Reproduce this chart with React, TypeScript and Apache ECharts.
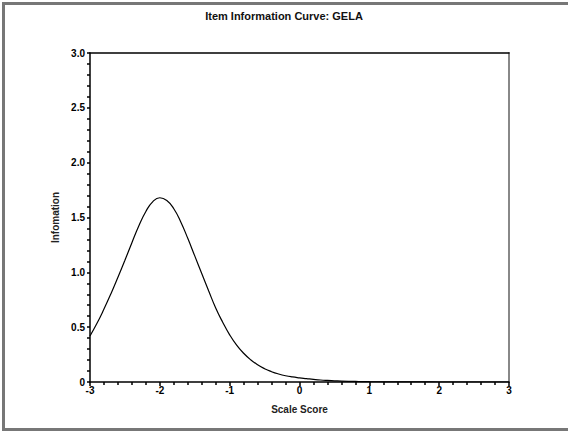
import React, { useEffect, useRef } from "react";
import * as echarts from "echarts";

const titleText = "Item Information Curve: GELA";
const xName = "Scale Score";
const yName = "Infomation";

const scaleScores = [
  -3.0, -2.9, -2.8, -2.7, -2.6, -2.5, -2.4, -2.3, -2.2, -2.1,
  -2.0, -1.9, -1.8, -1.7, -1.6, -1.5, -1.4, -1.3, -1.2, -1.1,
  -1.0, -0.9, -0.8, -0.7, -0.6, -0.5, -0.4, -0.3, -0.2, -0.1,
  0.0, 0.1, 0.2, 0.3, 0.4, 0.5, 0.6, 0.7, 0.8, 0.9,
  1.0, 1.2, 1.4, 1.6, 1.8, 2.0, 2.5, 3.0,
];
const information = [
  0.42, 0.535, 0.665, 0.805, 0.955, 1.11, 1.27, 1.425, 1.555, 1.645,
  1.68, 1.655, 1.58, 1.46, 1.31, 1.15, 0.99, 0.83, 0.675, 0.545,
  0.43, 0.336, 0.262, 0.203, 0.157, 0.121, 0.094, 0.073, 0.057, 0.046,
  0.038, 0.031, 0.024, 0.018, 0.014, 0.011, 0.008, 0.006, 0.005, 0.004,
  0.003, 0.002, 0.001, 0.0005, 0.0003, 0.0002, 0.0001, 0.0,
];

const FONT = "'Liberation Sans', Arial, sans-serif";
const FRAME = "#777777";

export default function App() {
  const ref = useRef<HTMLDivElement>(null);
  useEffect(() => {
    if (!ref.current) return;
    const chart = echarts.init(ref.current, null, { renderer: "svg" });
    const data = scaleScores.map((x, i) => [x, information[i]]);
    chart.setOption({
      animation: false,
      backgroundColor: "#ffffff",
      title: {
        text: titleText,
        left: "center",
        top: 5,
        textStyle: { fontFamily: FONT, fontSize: 11, fontWeight: "bold", color: "#111" },
      },
      graphic: [
        {
          type: "line",
          shape: { x1: 3.5, y1: 2, x2: 3.5, y2: 431 },
          style: { stroke: FRAME, lineWidth: 3 },
          silent: true,
        },
        {
          type: "line",
          shape: { x1: 2, y1: 3.5, x2: 568, y2: 3.5 },
          style: { stroke: FRAME, lineWidth: 3 },
          silent: true,
        },
        {
          type: "line",
          shape: { x1: 2, y1: 429.5, x2: 568, y2: 429.5 },
          style: { stroke: FRAME, lineWidth: 3 },
          silent: true,
        },
      ],
      grid: { left: 90, right: 59, top: 53, bottom: 49 },
      xAxis: [
        {
          type: "value",
          min: -3,
          max: 3,
          interval: 1,
          name: xName,
          nameLocation: "middle",
          nameGap: 22,
          nameTextStyle: { fontFamily: FONT, fontSize: 10, fontWeight: "bold", color: "#222" },
          axisLine: { show: true, onZero: false, lineStyle: { color: "#000", width: 1.5 } },
          axisTick: { show: true, length: 4, lineStyle: { color: "#000", width: 1.5 } },
          minorTick: { show: true, splitNumber: 5, length: 3, lineStyle: { color: "#000", width: 1.5 } },
          axisLabel: {
            margin: 3,
            fontFamily: FONT,
            fontSize: 10,
            fontWeight: "bold",
            color: "#000",
            formatter: (v: number) => String(v),
          },
          splitLine: { show: false },
        },
        {
          type: "value",
          position: "top",
          min: -3,
          max: 3,
          interval: 1,
          axisLine: { show: true, onZero: false, lineStyle: { color: "#000", width: 1.5 } },
          axisTick: { show: false },
          axisLabel: { show: false },
          splitLine: { show: false },
        },
      ],
      yAxis: [
        {
          type: "value",
          min: 0,
          max: 3,
          interval: 0.5,
          name: yName,
          nameLocation: "middle",
          nameGap: 30,
          nameRotate: 90,
          nameTextStyle: { fontFamily: FONT, fontSize: 10, fontWeight: "bold", color: "#222" },
          axisLine: { show: true, onZero: false, lineStyle: { color: "#000", width: 1.5 } },
          axisTick: { show: true, length: 3, lineStyle: { color: "#000", width: 1.5 } },
          minorTick: { show: true, splitNumber: 5, length: 3, lineStyle: { color: "#000", width: 1.5 } },
          axisLabel: {
            margin: 5,
            fontFamily: FONT,
            fontSize: 10,
            fontWeight: "bold",
            color: "#000",
            formatter: (v: number) => (v === 0 ? "0" : v.toFixed(1)),
          },
          splitLine: { show: false },
        },
        {
          type: "value",
          position: "right",
          min: 0,
          max: 3,
          interval: 0.5,
          axisLine: { show: true, onZero: false, lineStyle: { color: "#888", width: 2 } },
          axisTick: { show: false },
          axisLabel: { show: false },
          splitLine: { show: false },
        },
      ],
      series: [
        {
          type: "line",
          data,
          xAxisIndex: 0,
          yAxisIndex: 0,
          smooth: 0.5,
          showSymbol: false,
          symbol: "none",
          lineStyle: { color: "#000", width: 1.2 },
        },
      ],
    });
    return () => chart.dispose();
  }, []);
  return (
    <div
      ref={ref}
      style={{ position: "fixed", left: 0, top: 0, width: 568, height: 431, background: "#fff" }}
    />
  );
}
